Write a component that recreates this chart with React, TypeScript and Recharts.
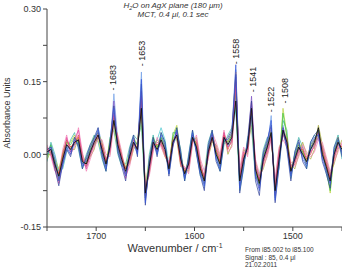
import { LineChart, Line, XAxis, YAxis, ReferenceDot } from "recharts";

// wavenumber grid, cm-1 (1750 down to 1450, step 4)
const WN_START = 1750;
const WN_STEP = 4;

// absorbance in milli-units, one value per grid point
const black = [5, 10, -20, -45, -10, 20, 10, 25, 30, -15, -20, 5, 25, 40, 10, -20, 15, 70, 20, -10, -35, -5, 25, 10, 95, -80, -25, 25, 10, 30, 10, -30, 25, 40, -10, -40, -20, 35, 15, -30, -55, 5, 35, 0, -20, 35, 20, 35, 110, -55, -10, 15, 95, -30, -60, -10, 15, 45, -75, -10, 50, 25, -35, -10, 15, 0, -15, 10, 25, 55, 0, -25, -55, 0, 25, 10];
const blue = [0, 15, -10, -55, -20, 15, 0, 30, 20, -25, -10, 15, 30, 50, 0, -30, 20, 95, 10, -20, -45, 5, 35, 0, 155, -100, -15, 30, 0, 40, 20, -40, 20, 50, 0, -50, -10, 45, 5, -40, -65, 15, 45, -10, -30, 30, 30, 45, 185, -70, -20, 25, 80, -45, -75, 0, 25, 70, -95, -20, 55, 15, -45, 0, 25, -10, -25, 20, 35, 40, -10, -35, -60, 10, 30, 0];
const red = [10, 5, -25, -40, 0, 30, 15, 20, 40, -10, -25, 0, 20, 35, 20, -15, 10, 80, 30, -5, -30, -15, 20, 15, 115, -85, -30, 20, 20, 25, 0, -25, 30, 35, -20, -35, -25, 30, 25, -25, -50, 0, 30, 10, -15, 40, 10, 30, 150, -50, 0, 10, 90, -25, -55, -20, 10, 40, -70, 0, 45, 30, -30, -20, 10, 10, -10, 0, 20, 45, 10, -20, -50, -10, 20, 15];
const green = [-5, 20, -15, -50, -5, 25, 20, 35, 25, -20, -15, 10, 35, 45, 5, -25, 25, 75, 15, -15, -40, 0, 30, 20, 105, -90, -20, 35, 15, 35, 15, -35, 35, 55, -5, -45, -15, 40, 20, -35, -60, 10, 45, 5, -25, 30, 25, 40, 125, -60, -15, 20, 85, -35, -65, -5, 20, 50, -80, -15, 85, 35, -40, -5, 20, 5, -20, 15, 30, 50, 5, -30, -75, 5, 30, 5];
const magenta = [15, 0, -30, -60, -15, 35, 5, 30, 50, -5, -30, 0, 25, 40, 15, -10, 5, 85, 25, -5, -50, -10, 30, 5, 120, -75, -35, 15, 25, 20, 5, -20, 20, 45, -15, -30, -30, 30, 30, -20, -45, 0, 40, 15, -10, 45, 15, 25, 140, -45, 5, 5, 110, -20, -50, -15, 5, 35, -65, 5, 40, 20, -25, -15, 5, 15, -5, 5, 15, 35, 15, -15, -45, -5, 15, 20];
const cyan = [0, 5, -15, -35, -5, 15, 15, 20, 25, -10, -20, 10, 20, 35, 15, -15, 15, 60, 25, -5, -30, 0, 20, 15, 80, -70, -20, 20, 30, 55, 30, -20, 20, 35, -5, -35, -15, 30, 15, -25, -50, 5, 30, 5, -15, 30, 15, 30, 100, -45, -5, 15, 70, -25, -50, -5, 15, 40, -60, -5, 45, 20, -30, -5, 15, 5, -10, 10, 20, 40, 5, -20, -45, 5, 20, 10];
const purple = [5, 10, -20, -50, -15, 20, 5, 25, 30, -20, -15, 5, 30, 45, 5, -25, 15, 110, 15, -15, -40, -5, 25, 5, 130, -95, -25, 25, 5, 30, 15, -35, 25, 45, -10, -45, -20, 40, 10, -35, -60, 5, 40, 0, -25, 35, 20, 35, 160, -65, -10, 15, 120, -40, -70, -10, 15, 55, -85, -10, 55, 25, -40, -10, 15, 0, -20, 10, 30, 45, 0, -30, -60, 0, 25, 5];
const orange = [10, 15, -15, -40, -5, 25, 15, 25, 35, -10, -20, 10, 25, 40, 15, -15, 20, 65, 25, -5, -30, -5, 25, 15, 100, -75, -20, 30, 15, 30, 10, -25, 30, 40, -5, -35, -15, 35, 20, -25, -50, 10, 35, 5, -15, 40, 25, 40, 170, -55, -5, 20, 80, -30, -55, -5, 20, 45, -70, -5, 55, 30, -30, -5, 20, 5, -10, 15, 25, 50, 5, -20, -50, 5, 25, 15];
const lime = [-10, 5, -10, -30, 0, 20, 25, 40, 20, -15, -10, 15, 35, 30, 0, -20, 30, 55, 10, -20, -25, 5, 35, 20, 70, -65, -10, 30, 10, 35, 20, -30, 40, 60, 0, -40, -10, 35, 25, -30, -45, 15, 40, 10, -20, 25, 30, 45, 105, -50, -20, 25, 60, -35, -55, 0, 25, 40, -65, -20, 95, 40, -35, 0, 25, 10, -15, 20, 30, 40, 10, -25, -80, 0, 35, 0];
const skyblue = [5, 20, -5, -45, -25, 10, 0, 20, 25, -20, -25, 0, 20, 55, 20, -25, 10, 125, 30, -10, -45, -10, 20, 0, 170, -90, -30, 20, 5, 25, 5, -40, 20, 45, -15, -50, -25, 40, 10, -40, -70, 0, 40, -5, -30, 35, 15, 30, 175, -65, -15, 10, 100, -40, -65, -15, 10, 80, -90, -15, 60, 20, -40, -15, 10, -5, -20, 5, 25, 45, -5, -30, -55, 0, 25, 5];
const pink = [20, -5, -35, -40, 10, 40, 0, 15, 55, 5, -35, -10, 15, 30, 30, 0, -5, 60, 40, 5, -45, -25, 15, 25, 90, -60, -45, 5, 35, 15, -5, -15, 15, 50, -25, -25, -40, 20, 40, -10, -35, -10, 45, 25, 0, 50, 5, 15, 120, -30, 15, -5, 85, -10, -40, -25, -5, 30, -50, 15, 30, 15, -15, -25, -5, 20, 5, -5, 5, 30, 25, -5, -35, -15, 5, 25];
const teal = [-15, 25, 0, -35, -30, 5, 30, 45, 10, -30, 0, 20, 40, 25, -10, -35, 35, 50, 0, -25, -20, 15, 40, 30, 60, -85, 0, 40, 0, 45, 25, -40, 45, 45, 10, -55, 0, 50, 5, -45, -40, 25, 50, -5, -35, 20, 40, 55, 95, -75, -30, 35, 55, -50, -45, 10, 35, 30, -55, -30, 70, 50, -50, 5, 35, 15, -30, 25, 40, 30, 15, -40, -70, 15, 40, -10];
const olive = [0, 0, -25, -55, 5, 30, 10, 10, 35, 0, -20, -5, 10, 45, 25, -10, 0, 75, 35, 0, -30, -20, 10, 25, 110, -70, -40, 10, 30, 20, -5, -20, 35, 30, -25, -30, -35, 25, 35, -15, -55, -5, 25, 20, -5, 45, 0, 20, 135, -40, 10, 0, 75, -15, -45, -30, 0, 35, -60, 10, 40, 35, -20, -30, 0, 25, 0, -10, 10, 60, 20, -10, -40, -20, 10, 30];
const navy = [10, 15, -30, -65, -20, 10, -5, 35, 15, -30, -5, 20, 35, 55, -5, -35, 25, 100, 5, -25, -55, 10, 40, -5, 145, -105, -10, 35, -5, 45, 25, -45, 15, 55, 5, -55, -5, 50, 0, -45, -75, 20, 50, -15, -35, 25, 35, 50, 165, -80, -25, 30, 110, -55, -85, 5, 30, 60, -100, -25, 50, 10, -55, 5, 30, -15, -30, 25, 40, 50, -15, -40, -70, 15, 35, -5];

const seriesList = [
  { key: "teal", values: teal, color: "#36b3a6" },
  { key: "skyblue", values: skyblue, color: "#6f9ee6" },
  { key: "lime", values: lime, color: "#b8d03a" },
  { key: "olive", values: olive, color: "#a3a833" },
  { key: "cyan", values: cyan, color: "#45c6cf" },
  { key: "orange", values: orange, color: "#ef8f3a" },
  { key: "pink", values: pink, color: "#f27ab3" },
  { key: "green", values: green, color: "#35c23a" },
  { key: "red", values: red, color: "#e5453f" },
  { key: "magenta", values: magenta, color: "#e3449f" },
  { key: "purple", values: purple, color: "#7b4fc2" },
  { key: "navy", values: navy, color: "#34449a" },
  { key: "blue", values: blue, color: "#3557d8" },
  { key: "black", values: black, color: "#111111" },
];

// labelled peaks and where their labels start (absorbance)
const peaks = [1683, 1653, 1558, 1541, 1522, 1508];
const peakLabelAt = [0.132, 0.182, 0.186, 0.128, 0.087, 0.105];

const yTicks = [-0.15, -0.075, 0, 0.075, 0.15, 0.225, 0.3];
const yMajor = [-0.15, 0, 0.15, 0.3];
const xTicks = [1750, 1700, 1650, 1600, 1550, 1500, 1450];
const xMajor = [1700, 1600, 1500];

const data = black.map((_, i) => {
  const row: Record<string, number> = { w: WN_START - i * WN_STEP };
  seriesList.forEach((s) => {
    row[s.key] = s.values[i] / 1000;
  });
  return row;
});

const font = "'Liberation Sans', Arial, sans-serif";

export default function App() {
  return (
    <div style={{ position: "relative", width: 342, height: 271, fontFamily: font }}>
      <style>{"body{margin:0}"}</style>
      <LineChart
        width={342}
        height={271}
        data={data}
        margin={{ top: 9, right: 0, bottom: 14, left: 7 }}
      >
        <XAxis
          dataKey="w"
          type="number"
          domain={[1450, 1750]}
          reversed
          ticks={xTicks}
          tickFormatter={(v) => (xMajor.includes(v) ? String(v) : "")}
          tick={{ fontSize: 9, fill: "#333", fontFamily: font }}
          tickSize={4}
          height={30}
          stroke="#444"
          allowDataOverflow
        />
        <YAxis
          type="number"
          domain={[-0.15, 0.3]}
          ticks={yTicks}
          tickFormatter={(v) => (yMajor.includes(v) ? v.toFixed(2) : "")}
          tick={{ fontSize: 9, fill: "#333", fontFamily: font }}
          tickSize={4}
          width={40}
          stroke="#444"
          allowDataOverflow
        />
        {seriesList.map((s) => (
          <Line
            key={s.key}
            dataKey={s.key}
            stroke={s.color}
            strokeWidth={s.key === "black" ? 0.9 : 0.7}
            dot={false}
            type="linear"
            isAnimationActive={false}
          />
        ))}
        {peaks.map((p, i) => (
          <ReferenceDot
            key={p}
            x={p}
            y={peakLabelAt[i]}
            r={0}
            shape={(props: any) => (
              <text
                x={props.cx}
                y={props.cy}
                transform={`rotate(-90 ${props.cx} ${props.cy})`}
                fontSize={9}
                fill="#222"
                dominantBaseline="central"
                fontFamily={font}
              >
                {"- " + p}
              </text>
            )}
          />
        ))}
      </LineChart>
      <svg
        width={342}
        height={271}
        style={{ position: "absolute", left: 0, top: 0, pointerEvents: "none" }}
      >
        <text x={173} y={8} textAnchor="middle" fontSize={8} fontStyle="italic" fill="#333" fontFamily={font}>
          H<tspan fontSize={5.5} dy={2}>2</tspan>
          <tspan dy={-2}>O  on  AgX plane  (180 μm)</tspan>
        </text>
        <text x={173} y={17} textAnchor="middle" fontSize={8} fontStyle="italic" fill="#333" fontFamily={font}>
          MCT,  0.4 μl,  0.1 sec
        </text>
        <text
          x={10}
          y={113}
          transform="rotate(-90 10 113)"
          textAnchor="middle"
          fontSize={9}
          fill="#333"
          fontFamily={font}
        >
          Absorbance Units
        </text>
        <text x={175} y={252} textAnchor="middle" fontSize={11} fill="#333" fontFamily={font}>
          Wavenumber  /  cm<tspan fontSize={7} dy={-4}>-1</tspan>
        </text>
        <text x={245} y={252} fontSize={6.5} fill="#333" fontFamily={font}>
          From  i85.002 to i85.100
        </text>
        <text x={245} y={259.5} fontSize={6.5} fill="#333" fontFamily={font}>
          Signal : 85,  0.4 μl
        </text>
        <text x={245} y={267} fontSize={6.5} fill="#333" fontFamily={font}>
          21.02.2011
        </text>
      </svg>
    </div>
  );
}
